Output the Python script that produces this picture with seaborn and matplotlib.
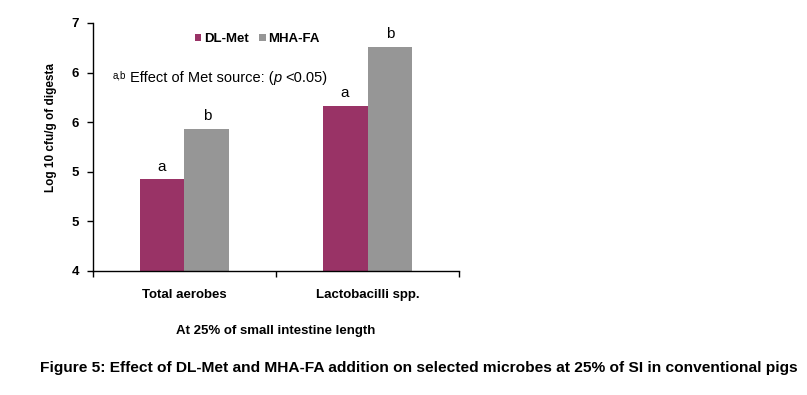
import pandas as pd
import seaborn as sns
import matplotlib.pyplot as plt
from matplotlib.patches import Patch
from matplotlib.ticker import FixedLocator, FormatStrFormatter

# --------------------------
# Data
# --------------------------
categories = ["Total aerobes", "Lactobacilli spp."]
sources = ["DL-Met", "MHA-FA"]
dl_met = [5.11, 6.00]
mha_fa = [5.72, 6.71]
dl_met_letters = ["a", "a"]
mha_fa_letters = ["b", "b"]
y_ticks = [4.0, 4.6, 5.2, 5.8, 6.4, 7.0]
colors = {"DL-Met": "#993366", "MHA-FA": "#969696"}

df = pd.DataFrame({
    "category": categories * 2,
    "source": [sources[0]] * len(categories) + [sources[1]] * len(categories),
    "value": dl_met + mha_fa,
})

# --------------------------
# Style
# --------------------------
sns.set_theme(style="white")
plt.rcParams["font.family"] = ["Liberation Sans", "DejaVu Sans"]
plt.rcParams.update({"text.color": "black", "axes.labelcolor": "black",
                     "xtick.color": "black", "ytick.color": "black"})

fig = plt.figure(figsize=(8.07, 3.95), dpi=100)
ax = fig.add_axes([0.1152, 0.314, 0.4536, 0.628])

sns.barplot(data=df, x="category", y="value", hue="source", palette=colors,
            width=0.49, gap=0, saturation=1, errorbar=None, legend=False,
            linewidth=0, ax=ax)

ax.set_xlim(-0.5, 1.5)
ax.set_ylim(4, 7)

# axes / ticks
for side in ["top", "right"]:
    ax.spines[side].set_visible(False)
for side in ["left", "bottom"]:
    ax.spines[side].set_color("black")
    ax.spines[side].set_linewidth(1)

ax.yaxis.set_major_locator(FixedLocator(y_ticks))
ax.yaxis.set_major_formatter(FormatStrFormatter("%.0f"))
ax.tick_params(axis="y", which="major", left=True, length=4, width=1, color="black",
               labelsize=9.5, pad=6)
for lbl in ax.get_yticklabels():
    lbl.set_fontweight("bold")

ax.xaxis.set_minor_locator(FixedLocator([-0.5, 0.5, 1.5]))
ax.tick_params(axis="x", which="minor", bottom=True, length=4, width=1, color="black")
ax.tick_params(axis="x", which="major", bottom=False, labelsize=9.5, pad=7)
for lbl in ax.get_xticklabels():
    lbl.set_fontweight("bold")

ax.set_xlabel("At 25% of small intestine length", fontsize=9.5, fontweight="bold", labelpad=17)
ax.set_ylabel("Log 10 cfu/g of digesta", fontsize=8.5, fontweight="bold")
ax.yaxis.set_label_coords(-0.098, 0.58)

# significance letters
for container, letters in zip(ax.containers, [dl_met_letters, mha_fa_letters]):
    ax.bar_label(container, labels=letters, padding=4, fontsize=11)

# legend
handles = [Patch(facecolor=colors[s], edgecolor="none") for s in sources]
fig.legend(handles, sources, loc="center", bbox_to_anchor=(0.319, 0.901), ncol=2,
           frameon=False, handlelength=0.5, handleheight=0.5, handletextpad=0.2,
           columnspacing=0.8, prop={"size": 9.5, "weight": "bold"})

# annotation
fig.text(113 / 807, 1 - 78 / 395, "a,b", fontsize=7, va="baseline", ha="left")
main = fig.text(130 / 807, 1 - 82 / 395, "Effect of Met source: (", fontsize=10.5,
                va="baseline", ha="left")
fig.canvas.draw()
r = fig.canvas.get_renderer()
bb = main.get_window_extent(renderer=r)
p_txt = fig.text(bb.x1 / 807, 1 - 82 / 395, "p", fontsize=10.5, style="italic",
                 va="baseline", ha="left")
bb2 = p_txt.get_window_extent(renderer=r)
fig.text((bb2.x1 + 3) / 807, 1 - 82 / 395, "<0.05)", fontsize=10.5, va="baseline", ha="left")

# caption
fig.text(0.5186, 1 - 368 / 395,
         "Figure 5: Effect of DL-Met and MHA-FA addition on selected microbes at 25% of SI in conventional pigs",
         ha="center", va="center", fontsize=11.15, fontweight="bold")

fig.savefig("out.png", dpi=100)
